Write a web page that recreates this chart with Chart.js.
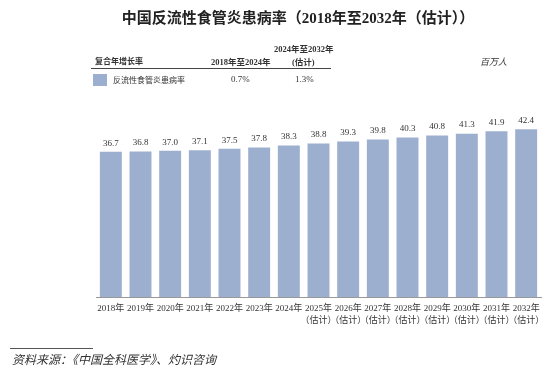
<!DOCTYPE html>
<html><head><meta charset="utf-8">
<script src="https://cdn.jsdelivr.net/npm/chart.js@4/dist/chart.umd.min.js"></script>
<style>
html,body{margin:0;padding:0;background:#fff;}
#wrap{position:relative;width:554px;height:369px;overflow:hidden;font-family:"Liberation Serif","Noto Sans CJK SC",serif;color:#333;}
#c{position:absolute;left:0;top:0;}
.t{position:absolute;white-space:nowrap;}
</style></head><body>
<div id="wrap">
<canvas id="c" width="554" height="369"></canvas>
<div class="t" id="title" style="left:0;width:596px;top:6px;text-align:center;font-size:15px;font-weight:bold;color:#222;">中国反流性食管炎患病率（2018年至2032年（估计））</div>
<div class="t" style="left:95px;top:55px;font-size:8px;font-weight:bold;">复合年增长率</div>
<div class="t" style="left:211px;top:55px;font-size:8.5px;font-weight:bold;">2018年至2024年</div>
<div class="t" style="left:274px;top:42px;font-size:8.5px;font-weight:bold;">2024年至2032年</div>
<div class="t" style="left:292px;top:55px;font-size:8.5px;font-weight:bold;">(估计)</div>
<div style="position:absolute;left:91px;top:68px;width:240px;height:1px;background:#444;"></div>
<div style="position:absolute;left:93px;top:74px;width:14px;height:12px;background:#9CAFCF;"></div>
<div class="t" style="left:113px;top:74px;font-size:8px;font-family:'Noto Sans CJK SC',sans-serif;">反流性食管炎患病率</div>
<div class="t" style="left:231px;top:74px;font-size:9px;">0.7%</div>
<div class="t" style="left:295px;top:74px;font-size:9px;">1.3%</div>
<div class="t" style="left:480px;top:55px;font-size:9px;font-style:italic;">百万人</div>
<div style="position:absolute;left:10px;top:348px;width:83px;height:1px;background:#555;"></div>
<div class="t" style="left:12px;top:350px;font-size:12px;font-style:italic;">资料来源：《中国全科医学》、灼识咨询</div>
</div>
<script>
const years = ['2018','2019','2020','2021','2022','2023','2024','2025','2026','2027','2028','2029','2030','2031','2032'];
const estimated = [false,false,false,false,false,false,false,true,true,true,true,true,true,true,true];
const prevalence = [36.7,36.8,37.0,37.1,37.5,37.8,38.3,38.8,39.3,39.8,40.3,40.8,41.3,41.9,42.4];

const labels = years.map((y,i)=> estimated[i] ? [y+'年','（估计）'] : y+'年');

const valueLabels = {
  id:'valueLabels',
  afterDatasetsDraw(chart){
    const ctx = chart.ctx;
    const meta = chart.getDatasetMeta(0);
    ctx.save();
    ctx.font = '9px "Liberation Serif", serif';
    ctx.fillStyle = '#333';
    ctx.textAlign = 'center';
    ctx.textBaseline = 'bottom';
    meta.data.forEach((bar,i)=>{
      ctx.fillText(prevalence[i].toFixed(1), bar.x, bar.y - 4);
    });
    ctx.restore();
  }
};

new Chart(document.getElementById('c'), {
  type:'bar',
  data:{ labels, datasets:[{ data: prevalence, backgroundColor:'#9CAFCF', borderWidth:0, barPercentage:0.74, categoryPercentage:1.0 }]},
  options:{
    responsive:false, animation:false,
    layout:{ padding:{ left:96, right:13, top:119, bottom:0 } },
    plugins:{ legend:{display:false}, tooltip:{enabled:false} },
    scales:{
      y:{ display:false, min:0, max:45 },
      x:{
        afterFit(s){ s.height = 72; },
        grid:{ display:false, drawTicks:false },
        border:{ display:true, color:'#999', width:1 },
        ticks:{ padding:6, maxRotation:0, autoSkip:false, color:'#333',
          font:{ family:'"Liberation Serif","Noto Sans CJK SC",serif', size:9, lineHeight:1.3 } }
      }
    }
  },
  plugins:[valueLabels]
});
</script>
</body></html>
